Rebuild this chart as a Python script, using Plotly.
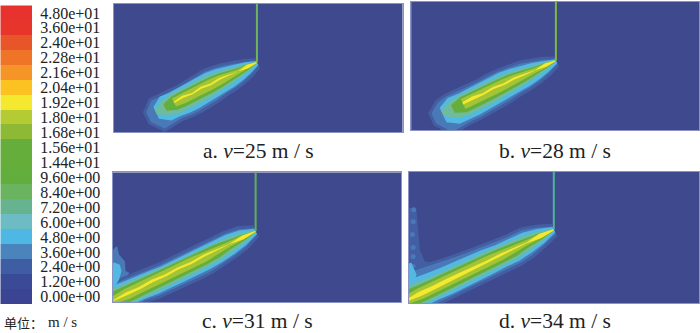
import plotly.graph_objects as go

W, H = 700, 333

legend_labels = ["4.80e+01","3.60e+01","2.40e+01","2.28e+01","2.16e+01","2.04e+01","1.92e+01","1.80e+01","1.68e+01","1.56e+01",
                 "1.44e+01","9.60e+00","8.40e+00","7.20e+00","6.00e+00","4.80e+00","3.60e+00","2.40e+00","1.20e+00","0.00e+00"]
legend_colors = ["#e8322d","#e8352c","#e85528","#ef7427","#f59528","#fbc221","#f4e92f","#b5cb33","#8db934","#66ae3b",
                 "#66ae3b","#62ae3c","#6ab35f","#66b48f","#6dbcc3","#4fb7e3","#4b83bd","#3f5da3","#3a4a97","#3b4492"]

# contour band colours, outside to inside
band_colors = ["#4a79b8", "#52b9e2", "#6fbb9d", "#66ae3b", "#a2c435", "#f4e92f"]
halo_color = "#445ea3"
BG = "#3e4a8d"

stations = [0, .1, .2, .3, .4, .5, .6, .7, .8, .9, 1, 1.1, 1.2]

a_axis = [(143.6, 70.3), (51.3, 25.3)]
a_upper = [[3,7,10,13,15,16,15,14,13,13,13,13,4],[1.5,5,7.5,10,12,13,12.5,12,11,11,11.5,5,0],[.5,3.5,5,7,9,10,10,9,9,9,7,2,0],
           [.3,2.5,3.5,5.5,7,7.5,7.5,7,7,6.5,3,0,0],[.3,2,2,3.5,5,5.5,5.5,5,5,4.5,0,0,0],[.4,2.2,.1,1.2,2.6,1.2,2.6,.8,2.6,.8,0,0,0]]
a_lower = [[5,10,13,15,16,18,19,20,20,19,20,21,8],[3,7,10,12,13,14,15,16,16,15,15,8,0],[.8,4,6,8,9.5,10.5,11.5,12,12,12,9,3,0],
           [.5,3,4.5,6,7,8,8.5,8.5,8.5,8,4,0,0],[.3,2,2.5,3.5,4.5,5,5.5,5.5,5.5,4.5,0,0,0],[.4,1.6,.1,.2,-.4,.6,-.4,.7,-.2,.6,0,0,0]]

b_axis = [(145, 70), (41.5, 22)]
b_upper = [[3,8,11,14,15,16,16,15,15,15,15,13,5],[1.5,5,8,10,12,13,12.5,12,11.5,11,11.5,6,0],[.5,3.5,5,7,9,10,10,9.5,9,9,7.5,2,0],
           [.3,2.5,3.5,5.5,7,7.5,7.5,7,7,7,3.5,0,0],[.3,2,2,3.5,5,5.5,5.5,5,5,5,0,0,0],[.4,2.2,.2,1.2,2.4,1.4,2.6,1.2,2.6,1.4,0,0,0]]
b_lower = [[5,10,13,15,16,18,19,20,21,21,22,23,7],[3,7,10,12,13,14,15,16,17,17,17,10,0],[.8,4,6,8,9.5,10.5,11.5,12.5,13,13,11,3,0],
           [.5,3,4.5,6,7,8,8.5,9,9.5,9.5,5,0,0],[.3,2,2.5,3.5,4.5,5,5.5,5.5,6,6,0,0,0],[.4,1.6,.1,.2,-.3,.5,-.2,.7,0,.9,0,0,0]]

c_axis = [(143.3, 71.6), (14, 8.3)]
c_upper = [[5,11,13,13,12.5,12.5,12.5,13,14,15,16,18,20],[3,8,10,10,9.5,9.5,9.5,10,11,12,13,15,17],[.5,5,7,7.5,8,8,8,8.5,9,9.5,10.5,11,13],
           [.3,3,4.5,6,6.5,6.5,6.5,7,7.5,8,8.5,9,9],[.3,2,2.5,3.5,4.5,5,5,5,5.5,5.5,5.5,4,1],[.5,2.2,.2,1,1.8,.9,1.8,1,2,1,2,.5,0]]
c_lower = [[5,11,14,16,18,18,17.5,17.5,17,15,15,15,15],[3,8,11,13,14,14,14,14,13.5,12,12,12,12],[.8,5,8,10,11,11,11,11,11,10.5,10.5,10,10],
           [.5,3.5,5,7.5,8.5,8.5,8.5,8.5,8.5,8.5,8.5,8,7],[.3,2,2.5,4,5.5,5.5,5.5,5.5,5.5,5.5,5.5,3,1],[.5,1.8,.2,.3,.4,1.3,.4,1.4,.6,1.6,1.2,.5,0]]

d_axis = [(145.4, 74), (11, 9)]
d_upper = [[5,11,15,15,16,17,18.5,20,22,24,26,28,30],[3,8,11,11,11.5,13,13.5,14,15,16,17,19,21],[.5,5,7.5,8.5,9,10,10,10,10.5,11,12,13,15],
           [.3,3,4.5,6,7,7.5,8,8,8.5,8.5,9,9.5,10],[.3,2.2,2.5,3.5,4.5,5.5,5.5,5.5,6,6,6,5,2],[.6,2.6,.4,1.2,1.6,1.2,1.8,2.2,2.2,2,2.6,1,0]]
d_lower = [[6,11,15,17,17,17,17.5,17.5,17.5,17,17,17,17],[3,8,11,13,13,13.5,13.5,14,14,13,13,13,13],[.8,5,8,10,10.5,10.5,10.5,11,11,11,11,11,11],
           [.5,3.5,5,7.5,8,8,8.5,8.5,8.5,8.5,8.5,8.5,8],[.3,2.2,2.5,4,5,5.5,5.5,5.5,5.5,5.5,5.5,4,2],[.6,2.2,.4,.5,1,1.2,1.6,1.5,2,2.2,2.2,1,0]]

# near-wall return flow in panels c and d: (x, y), band index
c_wall = [([0,2.3,4.6,6.6,12.3,13,17,10.6,1.3,0],[52,55,56.6,48,41.6,31.6,30,21.6,8.3,8],0),
          ([0,2.3,7.3,9,6.6,2.3,0],[40,40,38,31.6,23,16.6,10],1)]
d_wall = [([0,2.7,7.7,9.4,11,16,24.4,24,0],[95.7,95.7,94,70.7,54,42.3,40.7,20,20],0),
          ([0,2.7,7.7,6,2.7,0],[40,40.7,29,20.7,14,14],1)]
d_dots_x = [5, 4.5, 3.7, 4.4, 4.4, 4.4]
d_dots_y = [94, 82, 69, 56, 47, 37]

jet_x = [143.6, 145, 143.3, 145.3]
jet_colors = ["#6fb560","#7db83f","#62ad5a","#4fb39a"]
jet_top = [133, 131, 131, 132]

captions = ["a. <i>v</i>=25 m / s","b. <i>v</i>=28 m / s","c. <i>v</i>=31 m / s","d. <i>v</i>=34 m / s"]
unit_label = "单位："
unit_value = "m / s"

panels_px = [(113.7,403.3,2.7,132),(411.7,700,1,130),(112.7,401.7,172.3,303.3),(409.3,700,172,304)]
caption_px = [(259,151),(556,151),(258,322),(556,322)]

fig = go.Figure()

def band_polygon(axis, up, lo):
    (x0,y0),(x1,y1) = axis
    dx,dy = x1-x0,y1-y0
    L = (dx*dx+dy*dy)**.5
    nx,ny = -dy/L,dx/L
    if ny < 0:
        nx,ny = -nx,-ny
    xs,ys = [],[]
    for f,w in zip(stations,up):
        if w!=0:
            xs.append(x0+dx*f+nx*w); ys.append(y0+dy*f+ny*w)
    for f,w in list(zip(stations,lo))[::-1]:
        if w!=0:
            xs.append(x0+dx*f-nx*w); ys.append(y0+dy*f-ny*w)
    return xs,ys

def fill(xs,ys,color,i,edge=None):
    fig.add_trace(go.Scatter(x=xs,y=ys,mode="lines",fill="toself",fillcolor=color,
        line=dict(width=3 if edge else 0,color=edge or color),hoverinfo="skip",showlegend=False,
        xaxis=f"x{i+1}",yaxis=f"y{i+1}"))

panel_data = [(a_axis,a_upper,a_lower,[]),(b_axis,b_upper,b_lower,[]),(c_axis,c_upper,c_lower,c_wall),(d_axis,d_upper,d_lower,d_wall)]

for i,(axis,ups,los,wall) in enumerate(panel_data):
    l,r,t,b = panels_px[i]
    fig.layout[f"xaxis{i+1}"] = dict(domain=[l/W,r/W],range=[0,r-l],showgrid=False,zeroline=False,showticklabels=False,ticks="",
                                     showline=True,mirror=True,linecolor="#8a93c6",linewidth=1,anchor=f"y{i+1}")
    fig.layout[f"yaxis{i+1}"] = dict(domain=[1-b/H,1-t/H],range=[0,b-t],showgrid=False,zeroline=False,showticklabels=False,ticks="",
                                     showline=True,mirror=True,linecolor="#8a93c6",linewidth=1,anchor=f"x{i+1}")
    fill([0,r-l,r-l,0],[0,0,b-t,b-t],BG,i)
    for xs,ys,k in wall:
        if k==0: fill(xs,ys,band_colors[0] if i==2 else halo_color,i)
    if i==3:
        fig.add_trace(go.Scatter(x=d_dots_x,y=d_dots_y,mode="markers",marker=dict(size=5,color=band_colors[0]),
                                 hoverinfo="skip",showlegend=False,xaxis="x4",yaxis="y4"))
    for k in range(6):
        xs,ys = band_polygon(axis,ups[k],los[k])
        fill(xs,ys,band_colors[k],i,edge=halo_color if k==0 else None)
        for wx,wy,wk in wall:
            if wk==k and k>0: fill(wx,wy,band_colors[k],i)
    fig.add_trace(go.Scatter(x=[jet_x[i],jet_x[i]],y=[axis[0][1],jet_top[i]],mode="lines",cliponaxis=False,
        line=dict(color=jet_colors[i],width=2),hoverinfo="skip",showlegend=False,xaxis=f"x{i+1}",yaxis=f"y{i+1}"))

# colour scale
fig.add_trace(go.Bar(x=[1]*20,y=legend_labels,orientation="h",marker=dict(color=legend_colors,line=dict(width=0)),
                     width=1,hoverinfo="skip",showlegend=False,xaxis="x5",yaxis="y5"))
fig.layout.xaxis5 = dict(domain=[0.5/W,33/W],range=[0,1],visible=False,anchor="y5")
fig.layout.yaxis5 = dict(domain=[1-305/H,1-4.5/H],side="right",autorange="reversed",type="category",tickmode="array",
                         tickvals=legend_labels,ticktext=legend_labels,ticks="outside",ticklen=3,tickcolor="rgba(0,0,0,0)",
                         showline=False,showgrid=False,zeroline=False,anchor="x5",
                         tickfont=dict(family="Liberation Serif",size=16,color="#222"))

for (cx,cy),c in zip(caption_px,captions):
    fig.add_annotation(text=c,x=cx/W,y=1-cy/H,xref="paper",yref="paper",showarrow=False,xanchor="center",yanchor="middle",
                       font=dict(family="Liberation Serif",size=21.5,color="#222"))
fig.add_annotation(text=unit_label,x=2/W,y=1-323/H,xref="paper",yref="paper",showarrow=False,xanchor="left",yanchor="middle",
                   font=dict(family="Noto Sans CJK SC",size=13,color="#222"))
fig.add_annotation(text=unit_value,x=46/W,y=1-323/H,xref="paper",yref="paper",showarrow=False,xanchor="left",yanchor="middle",
                   font=dict(family="Liberation Serif",size=15,color="#222"))

fig.update_layout(width=W,height=H,margin=dict(l=0,r=0,t=0,b=0),paper_bgcolor="white",plot_bgcolor="white",bargap=0,showlegend=False)
fig.write_html("out.html",config=dict(displayModeBar=False),
               post_script="document.body.style.margin='0';document.body.style.overflow='hidden';")
